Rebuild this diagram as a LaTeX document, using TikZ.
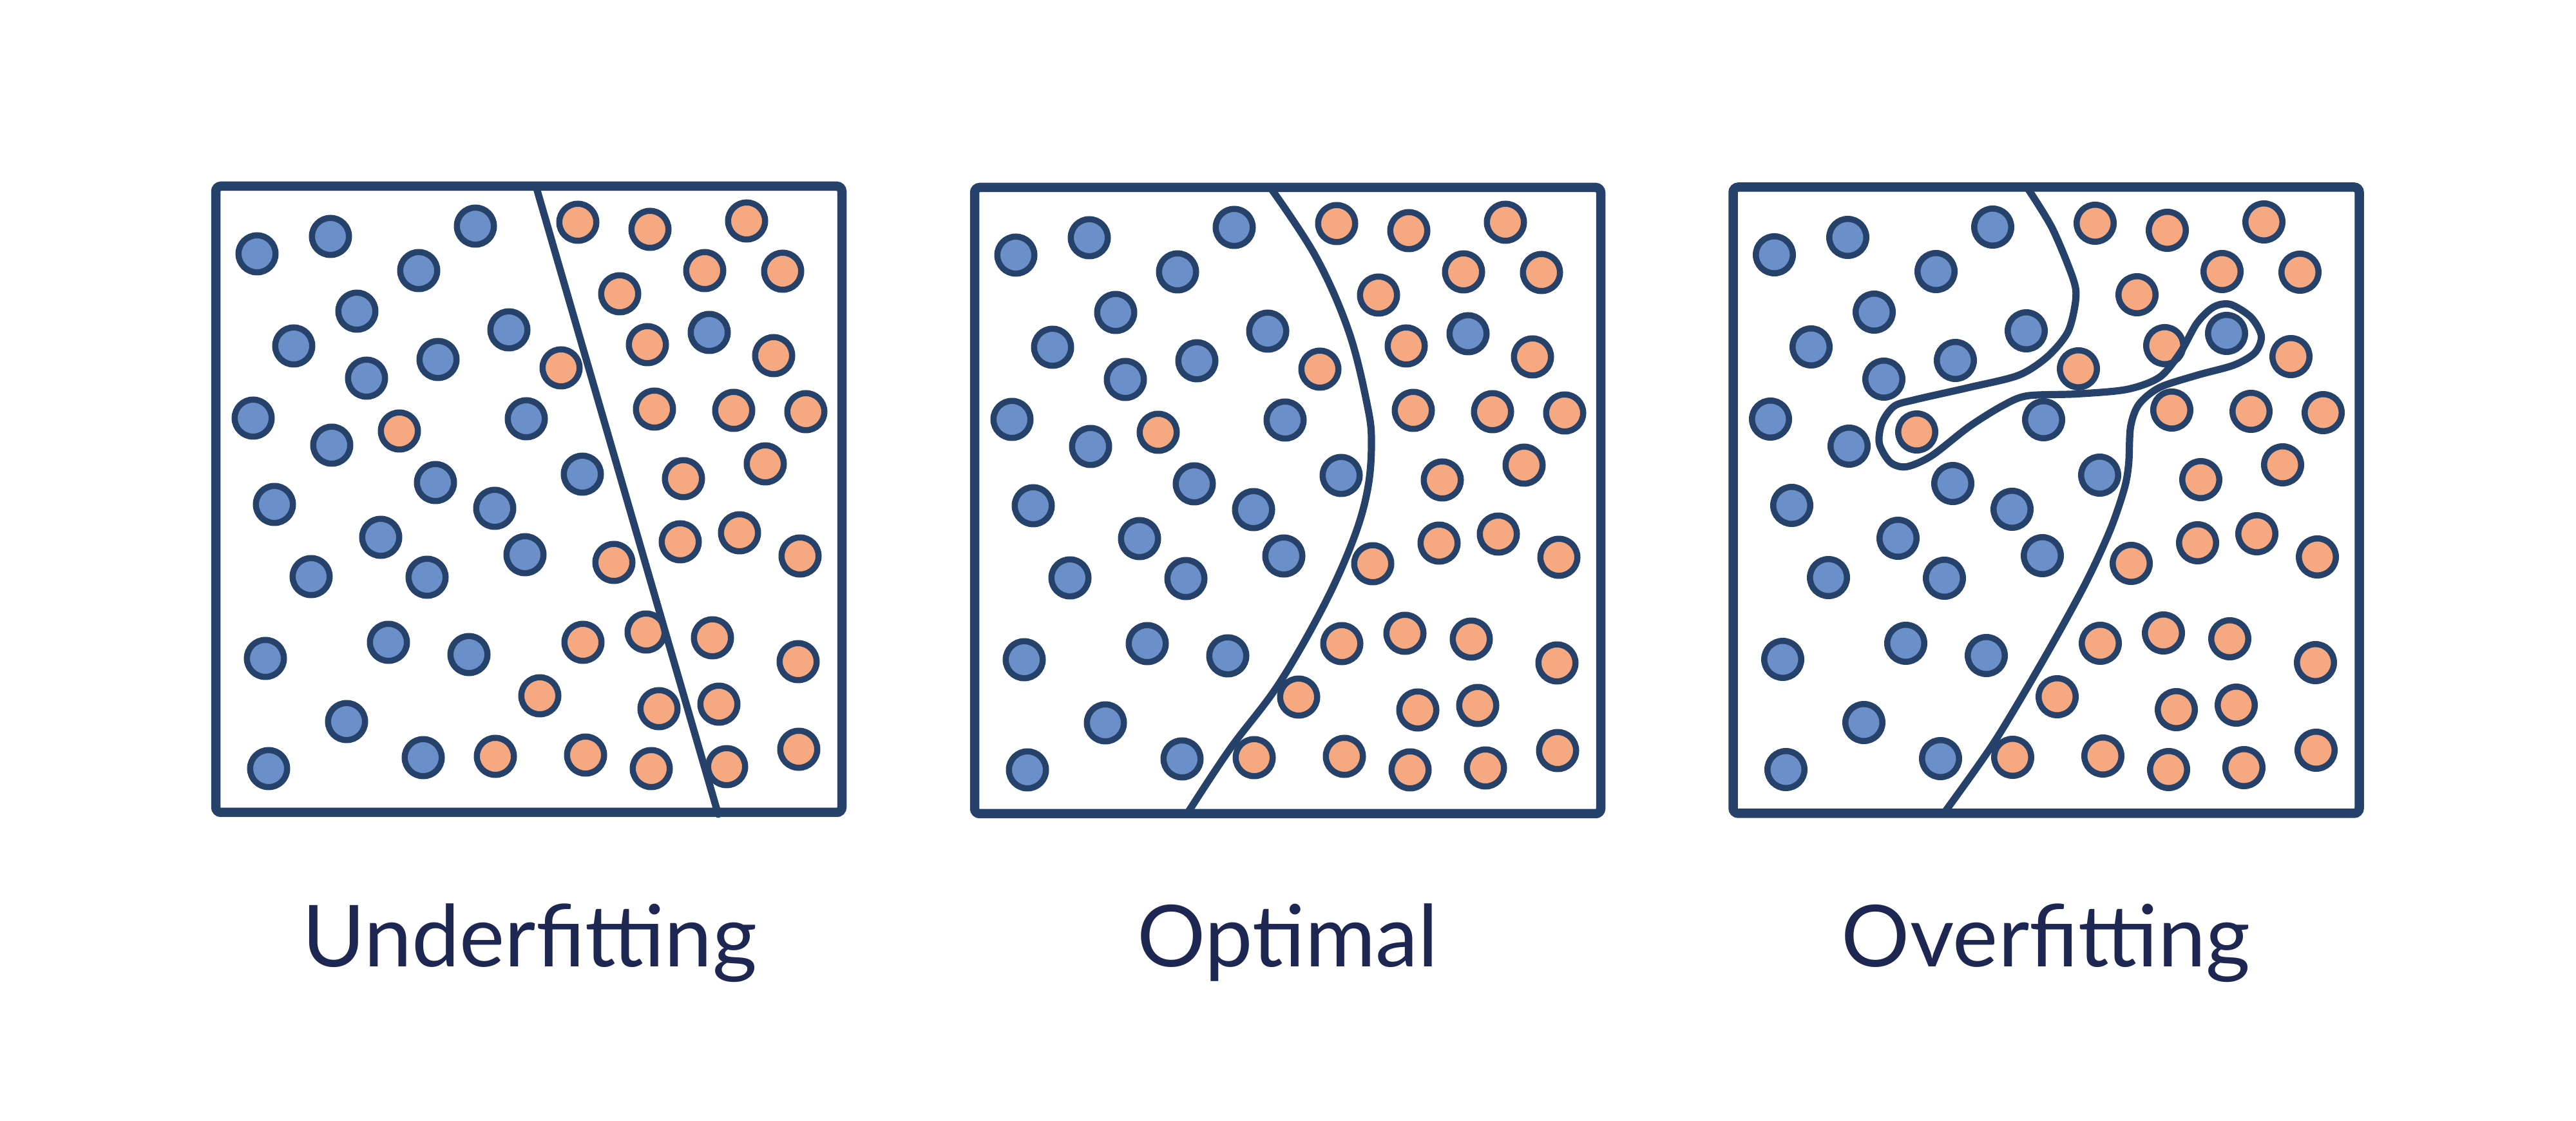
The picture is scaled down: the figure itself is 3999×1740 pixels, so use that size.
\documentclass[tikz,border=0pt]{standalone}
\usepackage{fontspec}
\setmainfont{Lato}
\definecolor{navy}{HTML}{26426A}
\definecolor{txt}{HTML}{1E2652}
\definecolor{bfill}{HTML}{6B8FC9}
\definecolor{ofill}{HTML}{F6A981}
\begin{document}
\begin{tikzpicture}[x=0.1mm,y=-0.1mm,
  panel/.style={draw=navy,line width=1.45mm,rounded corners=0.8mm,minimum width=97.2mm,minimum height=97.2mm,anchor=north west,inner sep=0pt,outer sep=0pt},
  dot/.style={circle,draw=navy,line width=0.95mm,minimum size=5.75mm,inner sep=0pt},
  bdot/.style={dot,fill=bfill},
  odot/.style={dot,fill=ofill},
  bound/.style={draw=navy,line width=1.12mm,line cap=round,line join=round},
  lbl/.style={anchor=base,text=txt,inner sep=0pt,font=\fontsize{37.8pt}{45pt}\selectfont}]
\fill[white] (0,0) rectangle (3999,1740);
\useasboundingbox (0,0) rectangle (3999,1740);
\def\bluedots{64/105, 178/78, 403/62, 315/131, 219/194, 121/248, 455/223, 345/269, 234/298, 58/360, 180/402, 482/361, 569/447, 341/460, 91/494, 433/500, 256/545, 480/572, 148/606, 328/607, 77/733, 268/708, 393/727, 203/831, 82/904, 322/887, 766/227}
\def\orangedots{562/56, 674/67, 824/54, 759/131, 880/132, 627/167, 670/246, 866/263, 536/282, 285/380, 681/346, 804/348, 916/350, 853/431, 726/454, 721/552, 813/538, 907/574, 618/584, 570/708, 668/692, 771/701, 904/738, 503/791, 688/811, 781/804, 434/885, 574/883, 676/904, 793/901, 905/874}
\foreach \p/\sx/\sy in {1/335/289, 2/1513/291, 3/2690.5/290.5}{
  \begin{scope}[shift={(\sx,\sy)}]
    \node[panel] (box\p) at (0,0) {};
    \foreach \u/\v [count=\i] in \bluedots { \node[bdot] (b\p-\i) at (\u,\v) {}; }
    \foreach \u/\v [count=\i] in \orangedots { \node[odot] (o\p-\i) at (\u,\v) {}; }
  \end{scope}
}
% Underfitting: straight boundary
\begin{scope}[shift={(335,289)}]
  \coordinate (u-top) at (497,0);
  \coordinate (u-bot) at (780,975);
  \draw[bound] (u-top) -- (u-bot);
\end{scope}
% Optimal: smooth boundary
\begin{scope}[shift={(1513,291)}]
  \draw[bound] plot[smooth,tension=0.6] coordinates {(459,0) (530,108) (581,224) (610,340) (616,398) (610,469) (588,546) (542,649) (472,771) (396,872) (330,972)};
\end{scope}
% Overfitting: wiggly boundary
\begin{scope}[shift={(2690.5,290.5)}]
  \draw[bound] plot[smooth,tension=0.5] coordinates {(456,0) (495,63) (527,140) (532,173) (520,224) (488,263) (443,292) (366,311) (282,330) (250,340) (231,366) (227,398) (244,427) (269,434) (308,417) (366,372) (417,340) (456,324) (533,321) (611,314) (662,295) (694,257) (720,211) (746,186) (772,182) (804,202) (820,231) (810,257) (778,276) (720,292) (662,311) (630,337) (617,372) (614,430) (607,469) (585,533) (546,617) (482,733) (405,862) (327,972)};
\end{scope}
\node[lbl] (l1) at (822,1500) {Underfitting};
\node[lbl] (l2) at (1999,1500) {Optimal};
\node[lbl] (l3) at (3176,1500) {Overfitting};
\end{tikzpicture}
\end{document}
